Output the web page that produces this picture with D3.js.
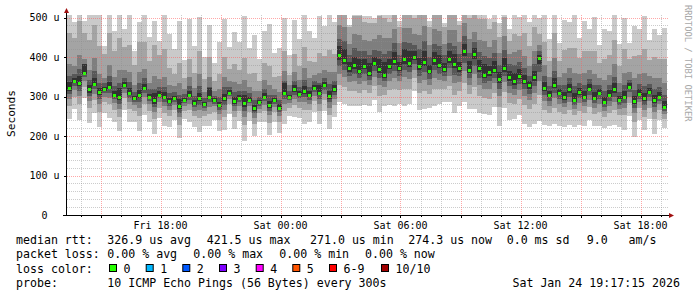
<!DOCTYPE html>
<html>
<head>
<meta charset="utf-8">
<script src="https://cdn.jsdelivr.net/npm/d3@7"></script>
<style>
body { margin: 0; background: #fff; }
svg { display: block; }
text { font-family: "DejaVu Sans Mono", monospace; white-space: pre; }
</style>
</head>
<body>
<script>
// 15 minute steps, Fri 13:19 -> Sat 19:22
var START = new Date(2026, 0, 23, 13, 19, 30);
var END = new Date(2026, 0, 24, 19, 22, 30);
var STEP_MIN = 15;

// median rtt per step (us)
var median = [
  322, 338, 335, 360, 318, 332, 312, 318, 325, 305, 298, 330, 310, 296, 303, 322, 300, 290, 305, 300,
  288, 296, 275, 292, 305, 284, 296, 280, 300, 290, 278, 295, 310, 288, 297, 283, 292, 270, 285, 300,
  278, 290, 272, 310, 300, 318, 306, 315, 305, 322, 310, 328, 302, 318, 405, 392, 372, 380, 365, 378,
  360, 385, 370, 355, 378, 390, 372, 395, 385, 400, 376, 388, 365, 392, 380, 370, 395, 383, 372, 415,
  368, 408, 372, 355, 362, 368, 345, 372, 350, 338, 352, 340, 328, 350, 398, 322, 305, 330, 310, 298,
  318, 292, 312, 300, 320, 296, 310, 285, 305, 318, 292, 300, 325, 288, 306, 295, 312, 290, 300, 274
];

// smoke: distance above the median of ping 10, 9, 8, 7, 6 (us)
var up1 = [
  190, 150, 210, 130, 200, 175, 220, 110, 195, 160, 230, 140, 205, 120, 185, 215, 150, 200, 135, 210,
  170, 125, 215, 100, 190, 145, 205, 120, 180, 95, 160, 200, 115, 175, 140, 220, 130, 185, 110, 165,
  205, 120, 150, 190, 105, 175, 140, 200, 160, 125, 195, 150, 210, 170, 130, 150, 110, 140, 160, 125,
  145, 115, 150, 170, 130, 160, 120, 140, 155, 110, 150, 165, 125, 145, 160, 115, 135, 150, 120, 140,
  160, 110, 150, 170, 135, 165, 140, 180, 120, 175, 150, 190, 160, 200, 100, 185, 140, 210, 125, 195,
  170, 220, 135, 190, 150, 205, 120, 185, 160, 215, 140, 200, 110, 190, 165, 210, 130, 180, 155, 200
];
var up2 = [
  140, 110, 155, 100, 125, 150, 115, 90, 135, 110, 150, 95, 120, 85, 135, 115, 90, 140, 100, 120,
  85, 60, 110, 55, 90, 75, 120, 65, 100, 50, 80, 105, 60, 95, 70, 115, 65, 90, 55, 85,
  100, 60, 80, 105, 55, 90, 70, 110, 85, 65, 100, 75, 115, 90, 120, 130, 105, 125, 140, 110,
  125, 100, 135, 145, 110, 130, 105, 125, 140, 100, 130, 145, 110, 125, 140, 105, 120, 135, 110, 115,
  130, 100, 125, 140, 110, 120, 105, 130, 90, 120, 100, 120, 100, 125, 60, 115, 85, 130, 80, 120,
  105, 130, 85, 115, 95, 120, 75, 110, 100, 125, 85, 120, 70, 115, 100, 125, 80, 110, 95, 120
];
var up3 = [
  60, 40, 70, 35, 50, 65, 45, 30, 55, 45, 70, 38, 52, 32, 60, 48, 35, 62, 40, 50,
  42, 30, 58, 28, 45, 38, 62, 32, 50, 25, 40, 55, 30, 48, 35, 60, 32, 45, 28, 42,
  52, 30, 40, 55, 28, 45, 35, 58, 42, 32, 50, 38, 60, 45, 75, 85, 60, 78, 90, 65,
  80, 60, 85, 92, 70, 82, 64, 78, 88, 58, 80, 90, 66, 78, 86, 62, 74, 85, 66, 70,
  78, 56, 72, 85, 64, 75, 66, 80, 58, 75, 66, 62, 50, 65, 32, 58, 44, 68, 40, 62,
  55, 68, 44, 60, 48, 62, 38, 56, 50, 65, 42, 60, 36, 58, 50, 64, 40, 56, 48, 60
];
var up4 = [
  30, 20, 35, 18, 25, 32, 22, 15, 28, 22, 35, 18, 26, 16, 30, 24, 18, 30, 20, 25,
  20, 15, 28, 14, 22, 18, 30, 16, 25, 12, 20, 28, 15, 24, 18, 30, 16, 22, 14, 20,
  26, 15, 20, 28, 14, 22, 18, 28, 20, 16, 25, 18, 30, 22, 40, 48, 32, 42, 50, 36,
  44, 32, 46, 52, 38, 45, 34, 42, 50, 30, 44, 52, 36, 42, 48, 34, 40, 46, 36, 38,
  42, 30, 40, 48, 36, 42, 36, 45, 32, 42, 36, 32, 25, 32, 16, 30, 22, 34, 20, 30,
  28, 34, 22, 30, 24, 32, 18, 28, 25, 32, 20, 30, 18, 28, 25, 32, 20, 28, 24, 30
];
var up5 = [
  14, 8, 16, 22, 10, 15, 9, 6, 12, 9, 24, 7, 11, 6, 14, 10, 7, 20, 8, 11,
  9, 6, 18, 5, 10, 8, 13, 6, 22, 5, 9, 12, 6, 10, 7, 20, 6, 9, 5, 8,
  11, 6, 8, 25, 5, 10, 7, 12, 9, 6, 18, 8, 13, 10, 22, 28, 15, 20, 30, 16,
  24, 14, 26, 32, 18, 22, 15, 24, 30, 14, 22, 28, 16, 20, 26, 15, 20, 25, 16, 18,
  22, 14, 20, 28, 16, 22, 18, 26, 14, 22, 18, 15, 12, 15, 7, 14, 10, 16, 9, 14,
  13, 16, 10, 14, 11, 15, 8, 13, 12, 15, 9, 14, 8, 13, 12, 15, 9, 13, 11, 14
];

// smoke: distance below the median of ping 1, 2, 3, 4, 5 (us)
var down1 = [
  80, 70, 95, 65, 85, 75, 90, 60, 80, 70, 85, 65, 75, 60, 90, 70, 65, 85, 60, 75,
  65, 55, 80, 50, 70, 60, 85, 55, 75, 50, 65, 80, 55, 70, 60, 95, 55, 70, 50, 65,
  75, 55, 65, 80, 50, 70, 60, 85, 70, 60, 80, 65, 85, 70, 120, 110, 95, 105, 90, 100,
  85, 95, 110, 80, 100, 115, 90, 120, 105, 85, 110, 120, 95, 115, 100, 85, 110, 125, 95, 130,
  100, 140, 115, 100, 110, 95, 120, 100, 110, 95, 100, 110, 105, 120, 160, 95, 80, 100, 85, 75,
  90, 70, 85, 75, 80, 70, 85, 65, 80, 90, 70, 85, 75, 90, 65, 80, 70, 85, 60, 55
];
var down2 = [
  45, 38, 55, 35, 48, 42, 52, 32, 45, 38, 50, 35, 42, 32, 52, 40, 36, 48, 34, 42,
  38, 30, 46, 28, 40, 34, 50, 30, 44, 28, 38, 46, 30, 40, 34, 55, 30, 40, 28, 36,
  44, 30, 36, 46, 28, 40, 34, 50, 40, 34, 46, 36, 50, 40, 75, 68, 58, 65, 55, 62,
  52, 58, 68, 50, 62, 72, 55, 75, 65, 52, 68, 75, 58, 72, 62, 52, 68, 78, 58, 80,
  62, 85, 70, 60, 68, 58, 72, 60, 66, 56, 58, 62, 60, 70, 95, 55, 46, 58, 48, 42,
  52, 40, 48, 42, 46, 40, 50, 36, 46, 52, 40, 48, 42, 52, 36, 46, 40, 48, 34, 30
];
var down3 = [
  28, 22, 34, 20, 30, 25, 32, 18, 28, 22, 30, 20, 25, 18, 32, 24, 20, 30, 19, 25,
  22, 17, 28, 16, 24, 20, 30, 17, 26, 15, 22, 28, 17, 24, 20, 34, 17, 24, 16, 21,
  26, 17, 21, 28, 16, 24, 20, 30, 24, 20, 28, 21, 30, 24, 48, 42, 36, 40, 34, 38,
  32, 36, 42, 30, 38, 44, 34, 46, 40, 32, 42, 46, 36, 44, 38, 32, 42, 48, 36, 50,
  38, 52, 44, 36, 42, 35, 44, 36, 40, 34, 35, 38, 36, 42, 60, 33, 28, 35, 29, 25,
  31, 24, 29, 25, 28, 24, 30, 21, 28, 31, 24, 29, 25, 31, 21, 28, 24, 29, 20, 18
];
var down4 = [
  16, 12, 20, 11, 17, 14, 18, 10, 16, 12, 17, 11, 14, 10, 18, 13, 11, 17, 10, 14,
  12, 9, 16, 8, 13, 11, 17, 9, 15, 8, 12, 16, 9, 13, 11, 20, 9, 13, 8, 12,
  15, 9, 12, 16, 8, 13, 11, 17, 13, 11, 16, 12, 17, 13, 28, 24, 21, 23, 19, 22,
  18, 21, 24, 17, 22, 26, 19, 27, 23, 18, 24, 27, 21, 25, 22, 18, 24, 28, 21, 30,
  22, 30, 25, 21, 24, 20, 25, 21, 23, 19, 20, 22, 21, 24, 35, 19, 16, 20, 17, 14,
  18, 13, 17, 14, 16, 13, 17, 12, 16, 18, 13, 17, 14, 18, 12, 16, 13, 17, 11, 10
];
var down5 = [
  7, 5, 9, 4, 8, 6, 8, 4, 7, 5, 8, 5, 6, 4, 8, 6, 5, 8, 4, 6,
  5, 4, 7, 3, 6, 5, 8, 4, 7, 3, 5, 7, 4, 6, 5, 9, 4, 6, 3, 5,
  7, 4, 5, 7, 3, 6, 5, 8, 6, 5, 7, 5, 8, 6, 12, 10, 9, 10, 8, 9,
  8, 9, 10, 7, 9, 11, 8, 12, 10, 8, 10, 12, 9, 11, 9, 8, 10, 12, 9, 13,
  9, 13, 11, 9, 10, 8, 11, 9, 10, 8, 8, 9, 9, 10, 15, 8, 7, 9, 7, 6,
  8, 6, 7, 6, 7, 6, 7, 5, 7, 8, 6, 7, 6, 8, 5, 7, 6, 7, 5, 4
];

var smokeColors = ['#cacaca', '#a4a4a4', '#7e7e7e', '#585858', '#323232'];

var yTicks = [0, 100, 200, 300, 400, 500];
var yTickLabels = ['0  ', '100 u', '200 u', '300 u', '400 u', '500 u'];

var medianStats = ['326.9 us avg', '421.5 us max', '271.0 us min', '274.3 us now', '0.0 ms sd', '9.0   am/s'];
var lossStats = ['0.00 % avg', '0.00 % max', '0.00 % min', '0.00 % now'];
var lossLabels = ['0', '1', '2', '3', '4', '5', '6-9', '10/10'];
var lossColors = ['#26ff00', '#00b8ff', '#0059ff', '#7e00ff', '#ff00ff', '#ff5500', '#ff0000', '#a10000'];
var probeText = '10 ICMP Echo Pings (56 Bytes) every 300s';
var stampText = 'Sat Jan 24 19:17:15 2026';

var WIDTH = 697, HEIGHT = 297;
var LEFT = 67, RIGHT = 668, TOP = 15, BOTTOM = 215;

var stepTime = function (i) {
  return new Date(START.getTime() + i * STEP_MIN * 60000);
};

var svg = d3.select('body').append('svg')
  .attr('width', WIDTH)
  .attr('height', HEIGHT);

var x = d3.scaleTime().domain([START, END]).range([LEFT, RIGHT]);
var y = d3.scaleLinear().domain([0, 500]).range([BOTTOM, 17.5]);

svg.append('clipPath').attr('id', 'canvas')
  .append('rect')
  .attr('x', LEFT).attr('y', TOP)
  .attr('width', RIGHT - LEFT).attr('height', BOTTOM - TOP);

// smoke, outer band first
var ups = [up1, up2, up3, up4, up5];
var downs = [down1, down2, down3, down4, down5];
var plot = svg.append('g')
  .attr('clip-path', 'url(#canvas)')
  .attr('shape-rendering', 'crispEdges');

ups.forEach(function (up, k) {
  var down = downs[k];
  plot.append('g').selectAll('rect')
    .data(median)
    .enter()
    .append('rect')
    .attr('x', function (d, i) { return Math.round(x(stepTime(i))); })
    .attr('width', function (d, i) { return Math.round(x(stepTime(i + 1))) - Math.round(x(stepTime(i))); })
    .attr('y', function (d, i) { return Math.round(y(d + up[i])); })
    .attr('height', function (d, i) { return Math.round(y(d - down[i])) - Math.round(y(d + up[i])); })
    .attr('fill', smokeColors[k]);
});

// median, coloured by loss (all 0 here)
plot.append('g').selectAll('rect')
  .data(median)
  .enter()
  .append('rect')
  .attr('x', function (d, i) { return Math.round(x(stepTime(i))) + 1; })
  .attr('width', 3)
  .attr('y', function (d) { return Math.round(y(d)) - 1; })
  .attr('height', 3)
  .attr('fill', lossColors[0]);

// grid on top of the smoke
var grid = svg.append('g').attr('shape-rendering', 'crispEdges');

d3.range(20, 501, 20).forEach(function (v) {
  var major = v % 100 === 0;
  var py = Math.round(y(v)) + 0.5;
  grid.append('line')
    .attr('x1', LEFT).attr('x2', RIGHT)
    .attr('y1', py).attr('y2', py)
    .attr('stroke', major ? '#ff5f5f' : '#8f8f8f')
    .attr('stroke-opacity', major ? 0.55 : 0.45)
    .attr('stroke-dasharray', '1,1');
});

x.ticks(d3.timeHour.every(1)).forEach(function (t) {
  var major = t.getHours() % 3 === 0;
  var px = Math.round(x(t)) + 0.5;
  grid.append('line')
    .attr('x1', px).attr('x2', px)
    .attr('y1', TOP).attr('y2', BOTTOM)
    .attr('stroke', major ? '#ff5f5f' : '#8f8f8f')
    .attr('stroke-opacity', major ? 0.55 : 0.45)
    .attr('stroke-dasharray', '1,1');
  grid.append('line')
    .attr('x1', px).attr('x2', px)
    .attr('y1', BOTTOM).attr('y2', BOTTOM + (major ? 3 : 2))
    .attr('stroke', '#000');
});

yTicks.forEach(function (v) {
  var py = Math.round(y(v)) + 0.5;
  grid.append('line')
    .attr('x1', LEFT - 3).attr('x2', LEFT)
    .attr('y1', py).attr('y2', py)
    .attr('stroke', '#000');
});

// axes with arrow heads
svg.append('line')
  .attr('x1', LEFT - 0.5).attr('x2', LEFT - 0.5)
  .attr('y1', BOTTOM).attr('y2', 12)
  .attr('stroke', '#000')
  .attr('shape-rendering', 'crispEdges');
svg.append('path')
  .attr('d', 'M' + (LEFT - 3) + ',13L' + (LEFT + 2) + ',13L' + (LEFT - 0.5) + ',8Z')
  .attr('fill', '#a01010');

svg.append('line')
  .attr('x1', LEFT - 4).attr('x2', RIGHT + 1)
  .attr('y1', BOTTOM + 0.5).attr('y2', BOTTOM + 0.5)
  .attr('stroke', '#000')
  .attr('shape-rendering', 'crispEdges');
svg.append('path')
  .attr('d', 'M' + (RIGHT + 1) + ',' + (BOTTOM - 2) + 'L' + (RIGHT + 1) + ',' + (BOTTOM + 3) + 'L' + (RIGHT + 6) + ',' + (BOTTOM + 0.5) + 'Z')
  .attr('fill', '#a01010');

// axis labels
svg.append('g').selectAll('text')
  .data(yTicks)
  .enter()
  .append('text')
  .attr('x', 59.5)
  .attr('y', function (v) { return y(v) + 3.5; })
  .attr('text-anchor', 'end')
  .attr('font-size', '10px')
  .attr('fill', '#000')
  .text(function (v, i) { return yTickLabels[i]; });

svg.append('g').selectAll('text')
  .data(x.ticks(d3.timeHour.every(6)))
  .enter()
  .append('text')
  .attr('x', function (t) { return x(t); })
  .attr('y', 229)
  .attr('text-anchor', 'middle')
  .attr('font-size', '10px')
  .attr('fill', '#000')
  .text(d3.timeFormat('%a %H:%M'));

svg.append('text')
  .attr('transform', 'translate(15,113.5) rotate(-90)')
  .attr('text-anchor', 'middle')
  .attr('font-size', '11.2px')
  .attr('fill', '#000')
  .text('Seconds');

svg.append('text')
  .attr('transform', 'translate(685,5) rotate(90)')
  .attr('font-size', '8.8px')
  .attr('fill', '#a8a8a8')
  .text('RRDTOOL / TOBI OETIKER');

// legend
var legend = svg.append('g')
  .attr('font-size', '11.6px')
  .attr('fill', '#000');

var medianX = [107.3, 206.7, 310, 408.3, 506.7, 586.7];
var lossX = [107.3, 193.3, 279.3, 365];

legend.append('text').attr('x', 16).attr('y', 244).text('median rtt:');
medianStats.forEach(function (s, i) {
  legend.append('text').attr('x', medianX[i]).attr('y', 244).text(s);
});

legend.append('text').attr('x', 16).attr('y', 258.4).text('packet loss:');
lossStats.forEach(function (s, i) {
  legend.append('text').attr('x', lossX[i]).attr('y', 258.4).text(s);
});

legend.append('text').attr('x', 16).attr('y', 272.7).text('loss color:');
var boxX = [109, 145.7, 182.3, 219, 255.7, 292.3, 329, 381];
lossLabels.forEach(function (l, i) {
  legend.append('rect')
    .attr('x', boxX[i] + 0.5).attr('y', 264.5)
    .attr('width', 7).attr('height', 7)
    .attr('fill', lossColors[i])
    .attr('stroke', '#000')
    .attr('stroke-width', 1);
  legend.append('text').attr('x', boxX[i] + 14.5).attr('y', 272.7).text(l);
});

legend.append('text').attr('x', 16).attr('y', 287.2).text('probe:');
legend.append('text').attr('x', 107.3).attr('y', 287.2).text(probeText);
legend.append('text').attr('x', 680).attr('y', 287.2).attr('text-anchor', 'end').text(stampText);
</script>
</body>
</html>
